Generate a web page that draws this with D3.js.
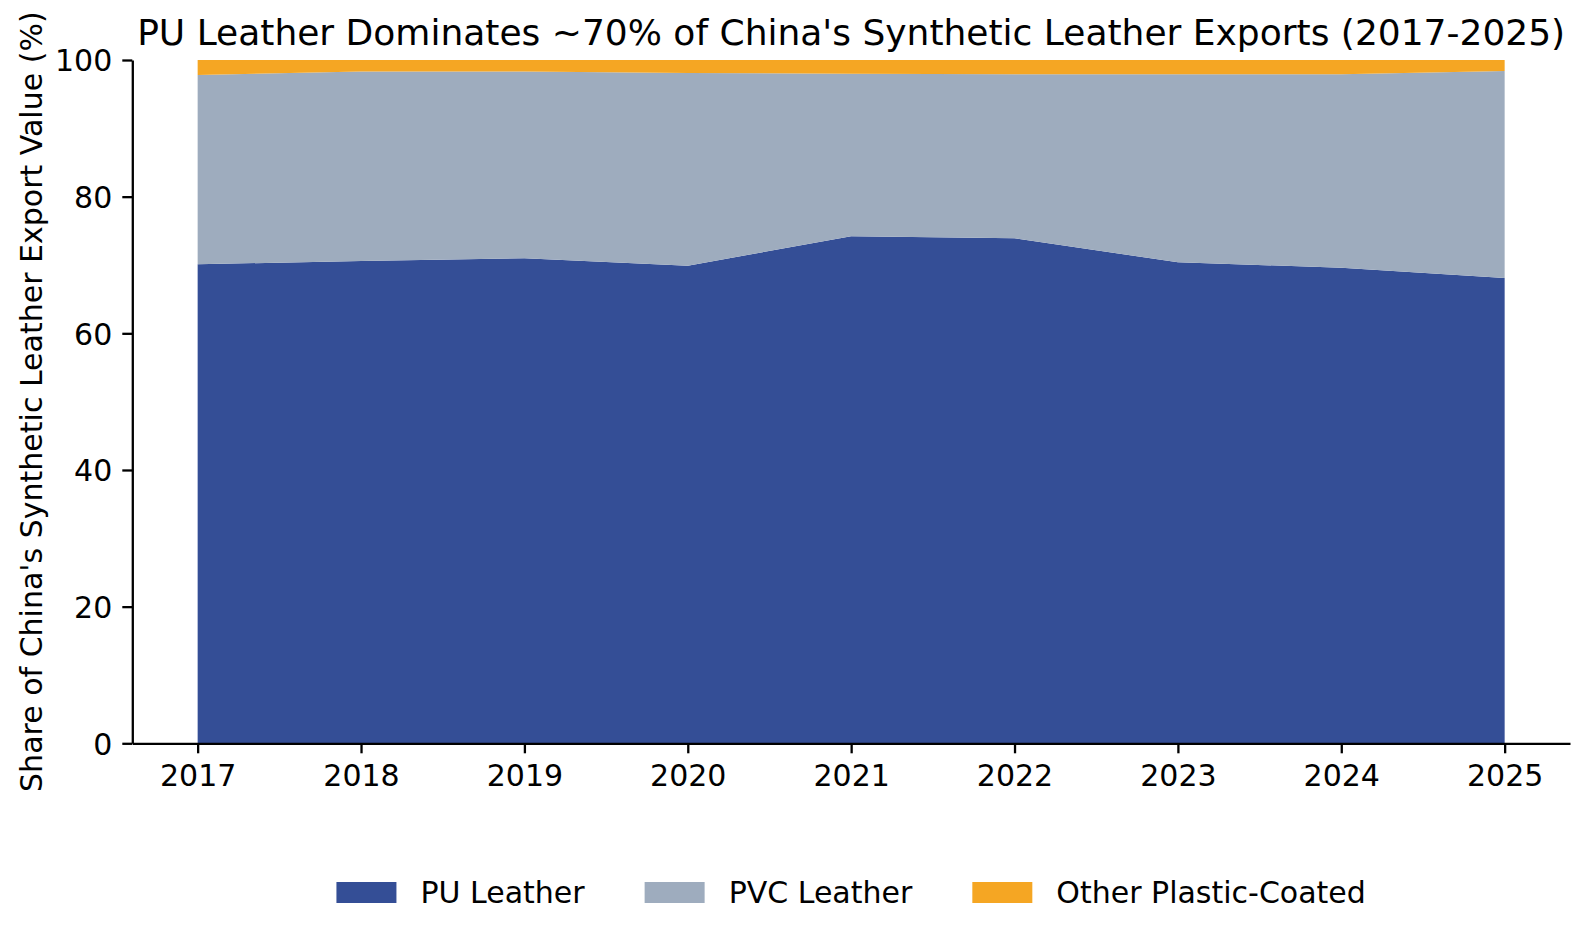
<!DOCTYPE html>
<html>
<head>
<meta charset="utf-8">
<script src="https://cdn.jsdelivr.net/npm/d3@7"></script>
<style>
  body { margin: 0; background: #fff; }
  svg { font-family: "DejaVu Sans", sans-serif; }
</style>
</head>
<body>
<svg></svg>
<script>
const years = [2017, 2018, 2019, 2020, 2021, 2022, 2023, 2024, 2025];
const puShare = [70.1, 70.6, 71.0, 69.9, 74.2, 73.9, 70.4, 69.6, 68.1];
const pvcShare = [27.7, 27.7, 27.3, 28.2, 23.8, 24.0, 27.5, 28.3, 30.3];
const otherShare = [2.2, 1.7, 1.7, 1.9, 2.0, 2.1, 2.1, 2.1, 1.6];
const seriesNames = ["PU Leather", "PVC Leather", "Other Plastic-Coated"];
const yTicks = [0, 20, 40, 60, 80, 100];

const width = 1588;
const height = 939;
const plotLeft = 132.3, plotRight = 1570, plotTop = 60, plotBottom = 743.3;
const colors = ["#344e96", "#9eacbe", "#f5a623"];
const fs = 30;

const rows = years.map((y, i) => ({
  year: y,
  [seriesNames[0]]: puShare[i],
  [seriesNames[1]]: pvcShare[i],
  [seriesNames[2]]: otherShare[i]
}));

const stack = d3.stack().keys(seriesNames)(rows);

const xScale = d3.scaleLinear()
  .domain([2016.6, 2025.4])
  .range([plotLeft, plotRight]);

const yScale = d3.scaleLinear()
  .domain([0, 100])
  .range([plotBottom, plotTop]);

const svg = d3.select("svg")
  .attr("width", width)
  .attr("height", height);

const area = d3.area()
  .x(d => xScale(d.data.year))
  .y0(d => yScale(d[0]))
  .y1(d => yScale(d[1]));

svg.append("g")
  .selectAll("path")
  .data(stack)
  .enter()
  .append("path")
    .attr("d", area)
    .attr("fill", (d, i) => colors[i]);

// axes
const xAxis = d3.axisBottom(xScale)
  .tickValues(years)
  .tickFormat(d3.format("d"))
  .tickSize(10)
  .tickPadding(10)
  .tickSizeOuter(0);

const yAxis = d3.axisLeft(yScale)
  .tickValues(yTicks)
  .tickSize(10)
  .tickPadding(10)
  .tickSizeOuter(0);

const gx = svg.append("g")
  .attr("transform", `translate(0, ${plotBottom})`)
  .call(xAxis);

const gy = svg.append("g")
  .attr("transform", `translate(${plotLeft}, 0)`)
  .call(yAxis);

[gx, gy].forEach(g => {
  g.selectAll("path.domain").attr("stroke", "#000").attr("stroke-width", 2.3);
  g.selectAll(".tick line").attr("stroke", "#000").attr("stroke-width", 2.3);
  g.selectAll(".tick text")
    .attr("fill", "#000")
    .style("font-size", fs + "px")
    .style("font-family", "DejaVu Sans");
});
gy.selectAll(".tick text").attr("dy", "0.36em");
gx.selectAll(".tick text").attr("dy", "0.76em");

// y axis label
svg.append("text")
  .attr("transform", "rotate(-90)")
  .attr("x", -(plotTop + plotBottom) / 2)
  .attr("y", 42)
  .style("text-anchor", "middle")
  .style("font-size", fs + "px")
  .text("Share of China's Synthetic Leather Export Value (%)");

// title
svg.append("text")
  .attr("x", (plotLeft + plotRight) / 2)
  .attr("y", 45)
  .style("text-anchor", "middle")
  .style("font-size", "36px")
  .text("PU Leather Dominates ~70% of China's Synthetic Leather Exports (2017-2025)");

// legend
const legend = svg.append("g");
const items = legend.selectAll("g")
  .data(seriesNames)
  .enter()
  .append("g");

items.append("rect")
  .attr("width", 2 * fs)
  .attr("height", 0.7 * fs)
  .attr("y", 882)
  .attr("fill", (d, i) => colors[i]);

items.append("text")
  .attr("y", 903)
  .style("font-size", fs + "px")
  .text(d => d);

let cursor = 0;
const offsets = [];
items.each(function () {
  const w = d3.select(this).select("text").node().getComputedTextLength();
  offsets.push(cursor);
  d3.select(this).select("text").attr("x", 2 * fs + 0.8 * fs);
  cursor += 2 * fs + 0.8 * fs + w + 2 * fs;
});
const total = cursor - 2 * fs;
const startX = (plotLeft + plotRight) / 2 - total / 2;
items.attr("transform", (d, i) => `translate(${startX + offsets[i]}, 0)`);
</script>
</body>
</html>
